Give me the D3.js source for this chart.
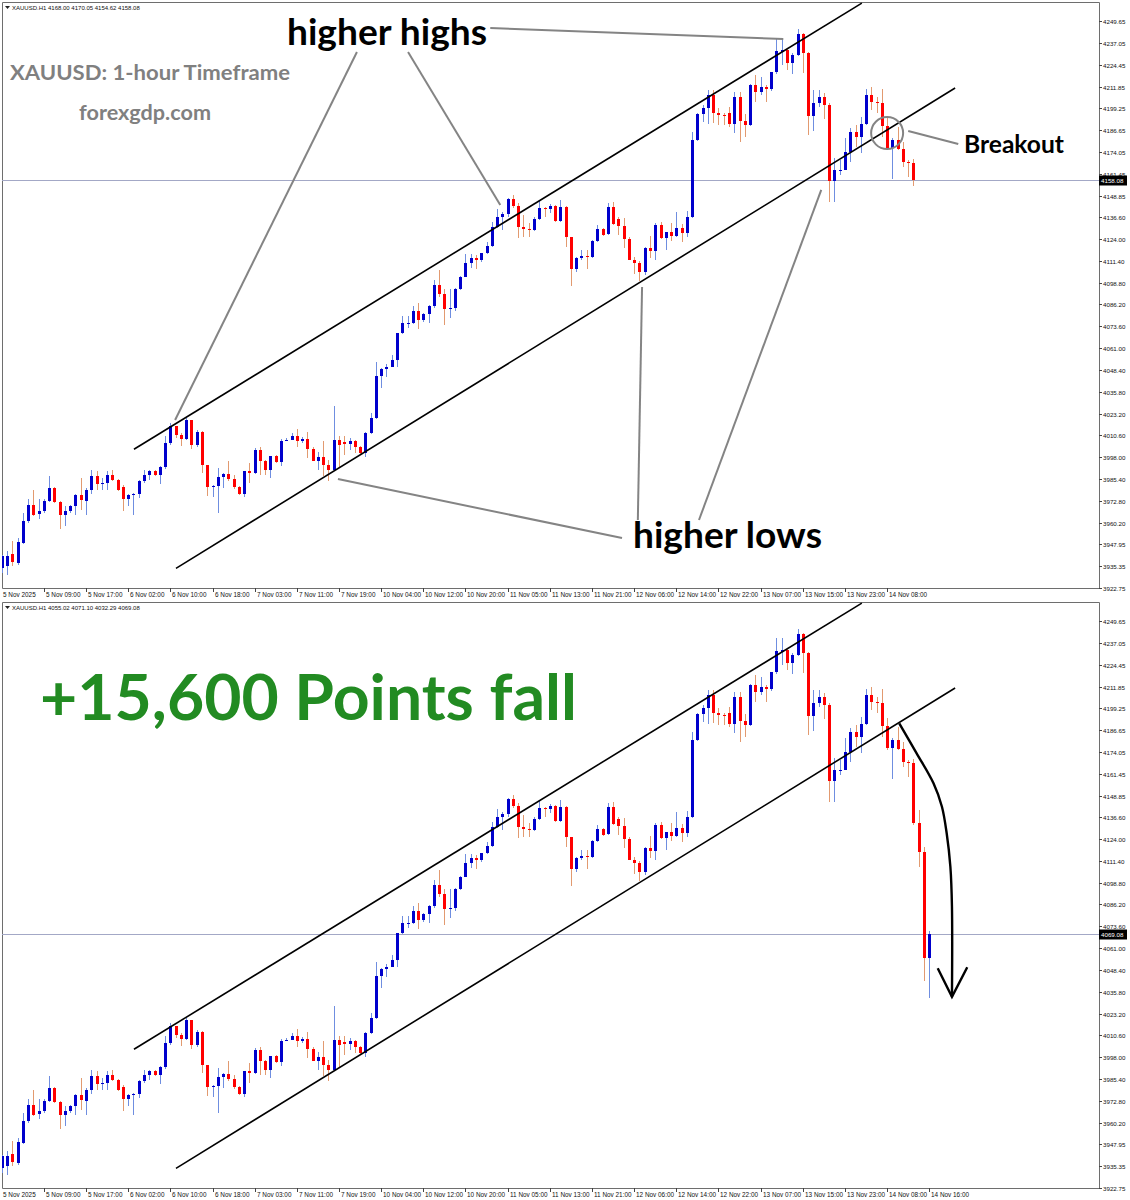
<!DOCTYPE html>
<html><head><meta charset="utf-8">
<script src="https://cdn.jsdelivr.net/npm/d3@7/dist/d3.min.js"></script>
<style>body{margin:0;background:#fff}svg{display:block}</style>
</head><body>
<svg id="c" width="1130" height="1200"></svg>
<script>
// ---------- DATA (XAUUSD H1, bar index 0 = first visible bar) ----------
const opens = [3934.1,3935.0,3942.2,3937.0,3948.5,3961.0,3970.6,3965.2,3966.8,3972.9,
3980.2,3972.1,3964.8,3967.1,3970.0,3976.4,3973.0,3979.2,3986.9,3982.5,
3982.9,3987.9,3985.0,3981.0,3973.9,3976.2,3977.0,3984.1,3987.9,3989.8,
3987.9,3992.1,4006.2,4015.8,4011.0,4008.5,4019.2,4005.2,4012.5,3993.6,
3980.8,3981.5,3986.5,3988.3,3985.6,3980.8,3976.9,3989.8,3988.9,4002.3,
3995.6,3990.8,3998.8,3995.0,4007.1,4008.1,4010.4,4007.1,4008.5,4002.7,
3996.0,3998.1,3993.6,3990.8,4007.7,4006.6,4005.8,4007.3,4004.2,4000.4,
4011.9,4020.6,4044.6,4048.8,4050.3,4054.2,4069.6,4075.3,4075.7,4082.5,
4076.9,4080.7,4085.3,4097.5,4092.1,4083.4,4084.2,4094.9,4102.2,4109.9,
4112.8,4111.5,4115.7,4119.9,4131.1,4136.5,4138.2,4146.8,4143.0,4131.1,
4129.7,4129.3,4135.5,4141.6,4141.3,4143.0,4134.5,4142.6,4124.9,4106.5,
4113.2,4114.2,4113.8,4123.0,4129.5,4126.8,4142.6,4135.5,4131.5,4123.8,
4111.9,4110.3,4104.6,4118.6,4116.7,4131.7,4124.4,4127.8,4125.7,4130.1,
4127.2,4136.8,4181.0,4196.0,4199.3,4207.0,4196.8,4195.5,4196.8,4190.3,
4205.6,4192.2,4189.7,4212.7,4208.9,4211.8,4210.3,4220.1,4231.6,4232.9,
4225.2,4230.0,4242.2,4231.0,4194.9,4202.2,4206.0,4201.2,4157.4,4163.7,
4163.9,4174.3,4185.9,4182.9,4190.3,4207.0,4203.1,4202.6,4189.1,4176.2,
4181.0,4175.7,4168.6,4168.00];
const highs = [3941.8,3943.7,3949.9,3951.4,3965.8,3974.1,3979.2,3974.1,3974.1,3987.3,
3980.8,3973.0,3969.6,3970.6,3976.7,3986.0,3980.2,3990.8,3990.2,3986.0,
3989.8,3990.4,3985.4,3981.8,3976.8,3977.3,3985.0,3990.8,3990.8,3990.4,
3992.7,4010.0,4017.7,4016.2,4011.9,4020.6,4019.6,4013.8,4012.9,3993.6,
3982.1,3991.7,3988.8,3995.6,3987.9,3981.5,3990.2,3994.6,4003.3,4004.2,
3996.5,3998.8,3999.2,4008.5,4009.0,4011.9,4014.2,4009.6,4012.3,4004.2,
4001.3,4007.1,3996.5,4027.7,4010.0,4010.4,4008.9,4007.7,4004.6,4012.3,
4023.8,4053.2,4049.4,4051.7,4057.1,4069.9,4079.2,4079.2,4085.4,4086.9,
4081.1,4085.9,4100.3,4106.1,4094.9,4094.9,4095.4,4102.8,4115.3,4115.3,
4114.7,4116.1,4122.4,4133.9,4141.1,4139.7,4147.4,4149.0,4144.5,4137.8,
4133.0,4136.3,4146.1,4142.6,4144.1,4143.6,4146.5,4143.0,4125.3,4113.8,
4117.6,4117.6,4123.4,4132.0,4130.1,4144.5,4145.5,4136.8,4135.9,4124.9,
4113.4,4111.3,4119.2,4125.7,4133.0,4133.9,4128.2,4133.4,4139.7,4132.6,
4140.3,4185.8,4196.8,4201.2,4209.9,4209.9,4199.3,4196.8,4199.9,4208.9,
4208.9,4196.0,4213.1,4218.5,4217.2,4212.9,4220.4,4239.7,4239.7,4233.9,
4231.0,4244.8,4242.9,4231.9,4209.9,4209.9,4207.9,4202.2,4170.5,4169.5,
4182.0,4187.8,4189.7,4194.5,4210.3,4211.4,4205.9,4210.3,4193.5,4182.0,
4188.7,4180.1,4169.5,4170.05];
const lows = [3931.2,3929.9,3935.0,3936.0,3948.1,3960.0,3963.9,3962.3,3965.8,3971.9,
3971.5,3956.6,3958.1,3965.8,3964.8,3967.7,3964.8,3976.9,3979.2,3979.2,
3979.2,3984.1,3978.3,3967.1,3969.6,3964.8,3974.4,3983.0,3985.0,3986.9,
3982.7,3991.2,4005.2,4009.0,4004.6,4007.7,4002.9,4004.2,3989.2,3975.4,
3975.0,3965.8,3980.2,3984.1,3979.6,3976.4,3975.0,3983.1,3988.5,3987.9,
3987.9,3986.0,3994.6,3992.7,4007.1,4008.1,4004.2,4006.2,3997.5,3995.6,
3990.8,3986.9,3984.1,3990.4,3991.7,3999.4,4002.3,4000.4,3999.4,3998.1,
4011.5,4020.0,4037.9,4044.2,4049.8,4050.3,4068.9,4072.4,4075.0,4071.9,
4076.3,4075.7,4084.3,4090.7,4074.4,4078.2,4082.1,4094.5,4101.8,4107.0,
4106.5,4110.9,4115.3,4119.5,4130.1,4129.2,4136.8,4141.7,4124.4,4125.3,
4124.9,4128.6,4134.9,4136.8,4139.1,4133.9,4133.9,4119.5,4096.9,4105.1,
4111.9,4106.5,4112.8,4122.4,4125.7,4126.4,4132.0,4126.3,4118.6,4111.5,
4103.8,4099.4,4103.2,4112.8,4111.9,4123.8,4117.6,4123.0,4125.3,4122.4,
4125.2,4135.9,4180.2,4191.6,4190.3,4190.6,4189.7,4189.7,4188.3,4185.3,
4180.1,4183.0,4189.1,4203.1,4207.0,4203.1,4209.5,4219.1,4224.3,4221.4,
4219.1,4229.4,4219.5,4183.9,4186.4,4200.3,4193.0,4145.5,4145.5,4160.9,
4163.5,4168.6,4177.2,4173.3,4189.7,4198.3,4196.8,4183.0,4175.2,4158.3,
4175.3,4165.6,4159.9,4154.62];
const closes = [3941.2,3940.8,3937.4,3948.9,3961.0,3970.6,3964.8,3966.8,3972.9,3980.2,
3972.1,3964.8,3967.1,3970.0,3976.4,3973.5,3979.2,3986.9,3982.5,3982.9,
3987.9,3985.0,3979.2,3973.9,3976.2,3977.0,3984.1,3987.9,3989.8,3987.9,
3992.1,4006.2,4015.8,4011.0,4008.5,4019.2,4005.2,4012.5,3993.6,3980.8,
3981.5,3986.5,3988.3,3985.6,3980.8,3976.9,3989.8,3988.9,4002.3,3995.6,
3990.8,3998.8,3995.0,4007.1,4008.1,4010.4,4007.1,4008.5,4002.7,3996.0,
3998.1,3993.6,3990.8,4007.7,4005.2,4005.8,4007.3,4004.2,4000.4,4011.9,
4020.6,4044.6,4048.8,4050.3,4054.2,4069.6,4075.3,4075.7,4082.5,4076.9,
4080.7,4085.3,4097.5,4092.1,4083.4,4084.2,4094.9,4102.2,4109.9,4112.8,
4111.5,4115.7,4119.9,4131.1,4136.5,4138.2,4146.8,4143.0,4131.1,4129.7,
4129.3,4135.5,4141.6,4141.3,4143.0,4134.5,4142.6,4124.9,4106.5,4113.2,
4114.2,4113.8,4123.0,4129.5,4126.3,4142.6,4132.6,4131.5,4123.8,4111.9,
4110.3,4104.6,4118.6,4116.7,4131.7,4124.4,4127.8,4125.7,4130.1,4127.2,
4136.8,4181.0,4196.0,4199.3,4207.0,4196.8,4195.5,4194.9,4190.3,4205.6,
4192.2,4189.7,4212.7,4208.9,4211.8,4210.3,4220.1,4232.5,4232.9,4225.2,
4230.0,4242.2,4231.0,4194.9,4202.2,4206.0,4201.2,4157.4,4163.7,4163.9,
4174.3,4185.9,4182.9,4190.3,4207.0,4203.1,4202.6,4189.1,4176.2,4181.0,
4175.7,4168.6,4168.0,4158.08];

// bottom chart: the last top bar completed, plus the following bars of the fall
const fallOpens  = [4168.00, 4132.9, 4116.6, 4055.02];
const fallHighs  = [4170.05, 4140.6, 4119.5, 4071.10];
const fallLows   = [4132.0, 4107.9, 4042.0, 4032.29];
const fallCloses = [4132.9, 4116.6, 4055.0, 4069.08];

const priceTicks = [4249.65,4237.05,4224.45,4211.85,4199.25,4186.65,4174.05,4161.45,4148.85,
4136.60,4124.00,4111.40,4098.80,4086.20,4073.60,4061.00,4048.40,4035.80,4023.20,4010.60,
3998.00,3985.40,3972.80,3960.20,3947.95,3935.35,3922.75];
const timeLabels = ["5 Nov 09:00","5 Nov 17:00","6 Nov 02:00","6 Nov 10:00","6 Nov 18:00",
"7 Nov 03:00","7 Nov 11:00","7 Nov 19:00","10 Nov 04:00","10 Nov 12:00","10 Nov 20:00",
"11 Nov 05:00","11 Nov 13:00","11 Nov 21:00","12 Nov 06:00","12 Nov 14:00","12 Nov 22:00",
"13 Nov 07:00","13 Nov 15:00","13 Nov 23:00","14 Nov 08:00","14 Nov 16:00"];
const timeBars = [8,16,24,32,40,48,56,64,72,80,88,96,104,112,120,128,136,144,152,160,168,176];
const firstLabel = "5 Nov 2025";

// annotation geometry in chart coordinates [bar, price]
const channelUpper = [[25.1, 4002.6], [163.2, 4260.0]];
const channelLower = [[33.07, 3933.9], [180.9, 4211.0]];
const pointerLines = [
  [[67.4, 4231.8], [32.9, 4019.5]],
  [[77.1, 4231.8], [94.6, 4143.5]],
  [[92.7, 4245.6], [148.3, 4239.3]],
  [[117.7, 3951.4], [63.8, 3985.4]],
  [[120.7, 3961.8], [121.5, 4096.2]],
  [[132.3, 3961.8], [155.5, 4152.2]],
  [[172.0, 4186.2], [181.5, 4178.7]]
];
const breakoutCircle = [168.0, 4185.0];
const fallArrow = [[170.3,4190.6],[173.6,4173.3],[176.8,4156.0],[178.4,4142.5],[179.3,4127.2],
  [180.0,4107.9],[180.3,4084.8],[180.3,4032.9]];
const arrowHead = [[177.6,4049.3],[180.3,4032.9],[183.2,4049.9]];

// ---------- DRAWING ----------
const svg = d3.select("#c");
const x = d3.scaleLinear().domain([0, 208.2]).range([1.7, 1099]);
const FONT = "'Liberation Sans', Arial, sans-serif";
const BULL = "#0000cc", BEAR = "#ff0000", BULLW = "#6f8ee0", BEARW = "#e29a70";

function panel(off, O, H, L, C, lastBar) {
  const top = 2 + off, bot = 588 + off, right = 1099;
  const y = d3.scaleLinear().domain([3922.75, 4249.65]).range([587.7 + off, 21 + off]);
  const g = svg.append("g");
  const cid = "clip" + off;
  svg.append("defs").append("clipPath").attr("id", cid)
    .append("rect").attr("x", 2).attr("y", top).attr("width", right - 2).attr("height", bot - top);

  // frame
  g.append("path").attr("d", `M2.5,${bot+0.5}V${top+0.5}H${right+0.5}V${bot+0.5}H2.5`)
    .attr("fill", "none").attr("stroke", "#6e6e6e").attr("stroke-width", 1);

  // price axis
  const ya = g.append("g");
  priceTicks.forEach(p => {
    const yy = Math.round(y(p)) + 0.5;
    ya.append("line").attr("x1", right).attr("x2", right + 3).attr("y1", yy).attr("y2", yy)
      .attr("stroke", "#444");
    ya.append("text").attr("x", right + 4).attr("y", yy + 2.2).text(p.toFixed(2))
      .attr("font-family", FONT).attr("font-size", 6.2).attr("fill", "#111");
  });

  // time axis
  g.append("text").attr("x", 3).attr("y", bot + 8.5).text(firstLabel)
    .attr("font-family", FONT).attr("font-size", 6.4).attr("fill", "#111");
  timeBars.forEach((b, k) => {
    if (b > lastBar) return;
    const xx = Math.round(x(b)) + 0.5;
    g.append("line").attr("x1", xx).attr("x2", xx).attr("y1", bot).attr("y2", bot + 4).attr("stroke", "#444");
    g.append("text").attr("x", xx + 1.5).attr("y", bot + 8.5).text(timeLabels[k])
      .attr("font-family", FONT).attr("font-size", 6.4).attr("fill", "#111");
  });

  // header
  const last = O.length - 1;
  g.append("path").attr("d", `M5,${top+4}h5l-2.5,3z`).attr("fill", "#222");
  g.append("text").attr("x", 12).attr("y", top + 7.5)
    .text(`XAUUSD.H1  ${O[last].toFixed(2)} ${H[last].toFixed(2)} ${L[last].toFixed(2)} ${C[last].toFixed(2)}`)
    .attr("font-family", FONT).attr("font-size", 6).attr("fill", "#111");

  const plot = g.append("g").attr("clip-path", `url(#${cid})`);
  // current price line
  const yl = Math.round(y(C[last])) + 0.5;
  plot.append("line").attr("x1", 2).attr("x2", right).attr("y1", yl).attr("y2", yl)
    .attr("stroke", "#a3a8c6").attr("stroke-width", 1);

  // candles
  const idx = d3.range(O.length);
  const cg = plot.append("g").attr("shape-rendering", "crispEdges");
  cg.selectAll("line.w").data(idx).join("line")
    .attr("x1", i => Math.round(x(i)) + 0.5).attr("x2", i => Math.round(x(i)) + 0.5)
    .attr("y1", i => y(H[i])).attr("y2", i => y(L[i]))
    .attr("stroke", i => C[i] >= O[i] ? BULLW : BEARW).attr("stroke-width", 1);
  cg.selectAll("rect.b").data(idx).join("rect")
    .attr("x", i => Math.round(x(i)) - 1).attr("width", 3)
    .attr("y", i => y(Math.max(O[i], C[i])))
    .attr("height", i => Math.max(1, Math.abs(y(O[i]) - y(C[i]))))
    .attr("fill", i => C[i] >= O[i] ? BULL : BEAR);

  // channel
  const line = d3.line().x(d => x(d[0])).y(d => y(d[1]));
  [channelUpper, channelLower].forEach(seg => plot.append("path").attr("d", line(seg))
    .attr("stroke", "#000").attr("stroke-width", 1.6).attr("fill", "none"));

  // price box on axis
  g.append("rect").attr("x", right).attr("y", yl - 5).attr("width", 28).attr("height", 10).attr("fill", "#000");
  g.append("text").attr("x", right + 2).attr("y", yl + 2.3).text(C[last].toFixed(2))
    .attr("font-family", FONT).attr("font-size", 6.2).attr("fill", "#fff");

  return {g, y, line, plot};
}

function label(g, t, xx, yy, size, w, color) {
  g.append("text").attr("x", xx).attr("y", yy).text(t)
    .attr("font-family", "Lato, 'Open Sans', sans-serif").attr("font-weight", 700)
    .attr("font-size", size).attr("fill", color)
    .attr("textLength", w).attr("lengthAdjust", "spacingAndGlyphs");
}

// TOP PANEL
const T = panel(0, opens, highs, lows, closes, 173);
pointerLines.forEach(seg => T.g.append("path").attr("d", T.line(seg))
  .attr("stroke", "#848484").attr("stroke-width", 2).attr("fill", "none"));
T.g.append("circle").attr("cx", x(breakoutCircle[0])).attr("cy", T.y(breakoutCircle[1])).attr("r", 16)
  .attr("fill", "none").attr("stroke", "#848484").attr("stroke-width", 2);
label(T.g, "higher highs", 287, 45, 36, 200, "#000");
label(T.g, "higher lows", 633, 548, 36, 189, "#000");
label(T.g, "Breakout", 964, 153, 24, 100, "#000");
label(T.g, "XAUUSD: 1-hour Timeframe", 10, 80, 21, 280, "#808080");
label(T.g, "forexgdp.com", 79, 120, 21, 132, "#808080");

// BOTTOM PANEL
const bO = opens.slice(0, 173).concat(fallOpens);
const bH = highs.slice(0, 173).concat(fallHighs);
const bL = lows.slice(0, 173).concat(fallLows);
const bC = closes.slice(0, 173).concat(fallCloses);
const B = panel(600, bO, bH, bL, bC, 176);
B.g.append("path").attr("d", d3.line().x(d => x(d[0])).y(d => B.y(d[1])).curve(d3.curveCatmullRom)(fallArrow))
  .attr("stroke", "#000").attr("stroke-width", 2.4).attr("fill", "none");
B.g.append("path").attr("d", B.line(arrowHead))
  .attr("stroke", "#000").attr("stroke-width", 2.4).attr("fill", "none");
label(B.g, "+15,600 Points fall", 40, 720, 64, 537, "#228b22");
</script>
</body></html>
